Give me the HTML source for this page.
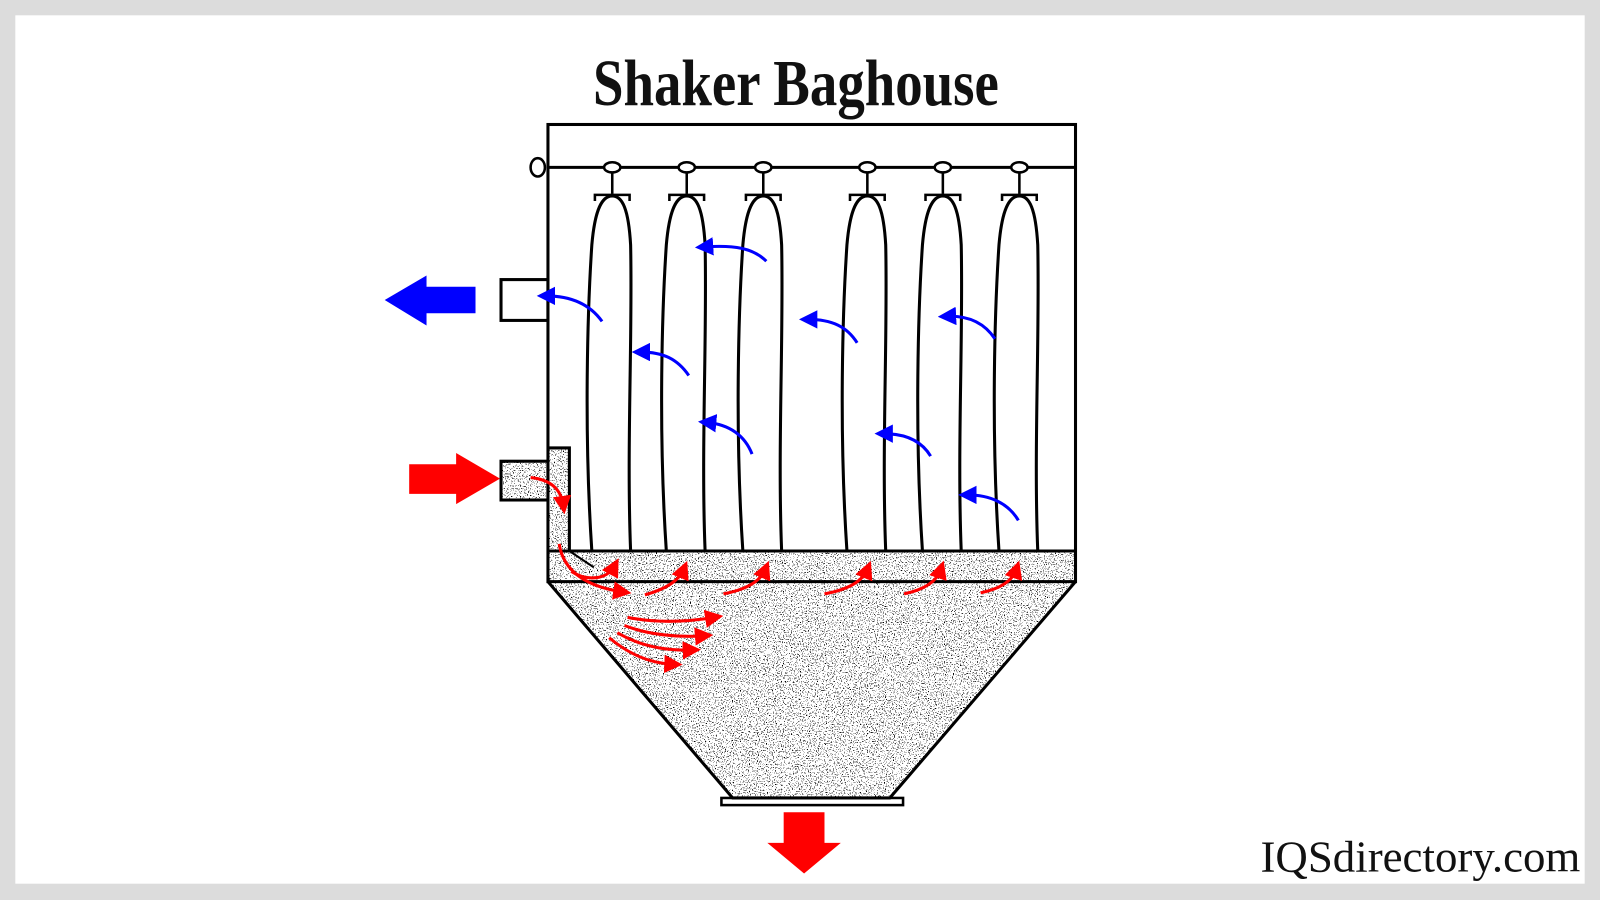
<!DOCTYPE html>
<html><head><meta charset="utf-8"><style>
html,body{margin:0;padding:0;background:#dcdcdc;}
svg{display:block;}
</style></head><body>
<svg width="1600" height="900" viewBox="0 0 1568 882" preserveAspectRatio="none" xmlns="http://www.w3.org/2000/svg">
<defs>
<filter id="sp" x="0" y="0" width="100%" height="100%">
<feTurbulence type="fractalNoise" baseFrequency="0.9" numOctaves="1" seed="3" result="n"/>
<feColorMatrix type="matrix" values="0 0 0 0 0  0 0 0 0 0  0 0 0 0 0  0 0 0 -30 11.5" in="n" result="m"/>
<feComposite in="m" in2="SourceGraphic" operator="in"/>
</filter>
<marker id="ab" markerWidth="6" markerHeight="6" refX="3" refY="3" orient="auto"><path d="M0,0 L6,3 L0,6 z" fill="#0000ff"/></marker>
<marker id="ar" markerWidth="6" markerHeight="6" refX="3" refY="3" orient="auto"><path d="M0,0 L6,3 L0,6 z" fill="#ff0000"/></marker>
</defs>
<rect x="0" y="0" width="1568" height="882" fill="#dcdcdc"/>
<rect x="15" y="15" width="1538" height="851" fill="#fff"/>
<text x="780" y="103" text-anchor="middle" font-family="Liberation Serif, serif" font-size="64" font-weight="bold" transform="translate(780,0) scale(0.84,1) translate(-780,0)" fill="#111">Shaker Baghouse</text>
<text x="1392" y="854" text-anchor="middle" font-family="Liberation Serif, serif" font-size="44" fill="#111">IQSdirectory.com</text>

<g>
<rect x="537" y="540" width="517" height="30" fill="#fff"/>
<polygon points="537,570 1054,570 872,782 718,782" fill="#fff"/>
<rect x="491" y="452" width="46" height="38" fill="#fff"/>
<rect x="537" y="439" width="21" height="101" fill="#fff"/>
<g filter="url(#sp)">
<rect x="537" y="540" width="517" height="30" fill="#000"/>
<polygon points="537,570 1054,570 872,782 718,782" fill="#000"/>
<rect x="491" y="452" width="46" height="38" fill="#000"/>
<rect x="537" y="439" width="21" height="101" fill="#000"/>
</g>
</g>

<g fill="none" stroke="#000" stroke-width="3">
<rect x="537" y="122" width="517" height="448"/>
<line x1="537" y1="164" x2="1054" y2="164"/>
<line x1="537" y1="540" x2="1054" y2="540"/>
<polyline points="537,570 718,782 872,782 1054,570"/>
<rect x="707" y="782" width="178" height="7" stroke-width="2.5"/>
<rect x="491" y="274" width="46" height="40"/>
<rect x="491" y="452" width="46" height="38"/>
<polyline points="537,439 558,439 558,540"/>
<line x1="558" y1="540" x2="582" y2="556" stroke-width="2"/>
</g>
<ellipse cx="527" cy="164" rx="7" ry="9" fill="#fff" stroke="#000" stroke-width="2.5"/>

<g fill="none" stroke="#000" stroke-width="3">
<g id="bag">
<path d="M580,540 C572,420 576,300 580,240 C583,205 590,192 600,192 C610,192 616,205 618,240 C620,330 614,440 618,540"/>
<ellipse cx="600" cy="164" rx="8" ry="5" fill="#fff" stroke-width="2.5"/>
<line x1="600" y1="169" x2="600" y2="190" stroke-width="2.5"/>
<polyline points="583,197 583,191 617,191 617,197" stroke-width="2.5"/>
</g>
<use href="#bag" x="73"/>
<use href="#bag" x="148"/>
<use href="#bag" x="250"/>
<use href="#bag" x="324"/>
<use href="#bag" x="399"/>
</g>

<g fill="none" stroke="#0000ff" stroke-width="3" marker-end="url(#ab)">
<path d="M590,315 C578,298 560,290 535,290"/>
<path d="M751,256 C738,243 720,240 690,242"/>
<path d="M675,368 C664,352 650,345 628,345"/>
<path d="M840,336 C830,320 815,313 792,313"/>
<path d="M975,332 C965,317 950,309 928,310"/>
<path d="M737,445 C730,427 715,416 693,414"/>
<path d="M912,447 C903,432 888,425 866,425"/>
<path d="M998,510 C988,493 970,485 948,485"/>
</g>
<g fill="none" stroke="#ff0000" stroke-width="3" marker-end="url(#ar)">
<path d="M520,468 C540,470 550,480 552,495"/>
<path d="M548,533 C552,560 575,575 610,580"/>
<path d="M560,560 C575,570 595,568 602,555"/>
<path d="M632,583 C650,578 665,570 670,558"/>
<path d="M709,582 C730,578 745,570 750,558"/>
<path d="M808,582 C830,578 845,570 850,558"/>
<path d="M886,582 C905,578 918,570 922,558"/>
<path d="M961,581 C980,577 992,570 996,558"/>
<path d="M615,605 C640,610 670,610 700,605"/>
<path d="M612,613 C635,622 665,625 690,623"/>
<path d="M605,620 C625,632 650,638 678,637"/>
<path d="M597,625 C615,640 635,650 660,651"/>
</g>

<polygon points="377,294 418,270 418,281 466,281 466,307 418,307 418,319" fill="#0000ff"/>
<polygon points="401,455 447,455 447,444 490,469 447,494 447,484 401,484" fill="#ff0000"/>
<polygon points="768,796 808,796 808,826 824,826 788,856 752,826 768,826" fill="#ff0000"/>
</svg>
</body></html>
